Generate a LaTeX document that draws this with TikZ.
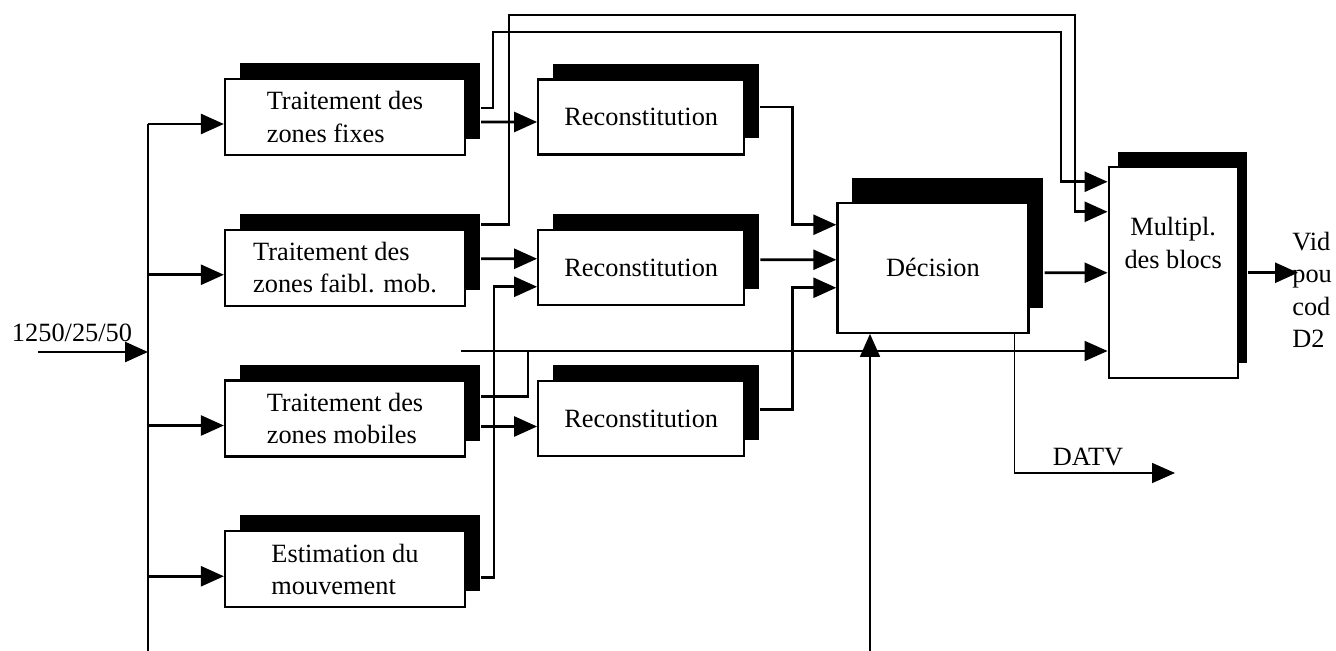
\documentclass[tikz,border=0pt]{standalone}
\usepackage{fontspec}
\setmainfont{Liberation Serif}
\usetikzlibrary{arrows.meta,positioning,shadows}

\begin{document}
\begin{tikzpicture}[x=0.02cm, y=-0.02cm, node distance=1.45cm, font=\fontsize{15}{18.5}\selectfont]
    % Styles
    \tikzstyle{ombre}=[shadow xshift=0.3cm, shadow yshift=0.32cm, fill=black, opacity=1]
    \tikzstyle{cadre}=[rectangle, draw=black, fill=white, line width=1.3pt]
    \tikzstyle{bloc}=[cadre, drop shadow={ombre}]
    \tikzstyle{traitement}=[bloc, minimum width=4.8cm, minimum height=1.52cm, align=left]
    \tikzstyle{recon}=[bloc, minimum width=4.12cm, minimum height=1.5cm]
    \tikzstyle{trait}=[line width=1.5pt]
    \tikzstyle{fin}=[line width=1pt]
    \tikzstyle{fleche}=[-{Triangle[length=0.46cm, width=0.4cm]}]

    \useasboundingbox (0,0) rectangle (1336,651);

    % Blocs de traitement
    \node (fixes) [traitement] at (345,117) {Traitement des\\zones fixes};
    \node (faible) [traitement, below=of fixes] {Traitement des\\zones faibl. mob.};
    \node (mobile) [traitement, below=of faible] {Traitement des\\zones mobiles};
    \node (estim) [traitement, below=of mobile] {Estimation du\\mouvement};

    % Reconstitution
    \node (rec1) [recon, right=1.42cm of fixes] {Reconstitution};
    \node (rec2) [recon, right=1.42cm of faible] {Reconstitution};
    \node (rec3) [recon, right=1.42cm of mobile] {Reconstitution};

    % Decision et multiplexage
    \node (dec) [cadre, drop shadow={ombre, shadow yshift=0.5cm}, minimum width=3.82cm, minimum height=2.6cm, right=1.82cm of rec2] {Décision};
    \node (mux) [cadre, drop shadow={ombre, shadow xshift=0.18cm, shadow yshift=0.3cm}, minimum width=2.58cm, minimum height=4.22cm, right=1.56cm of dec, yshift=-0.1cm] {};
    \node (muxtexte) [align=center, below=0.9cm of mux.north] {Multipl.\\des blocs};

    % Textes
    \node (debit) at (72,333) {1250/25/50};
    \node (datvtexte) at (1088,457) {DATV};
    \node (video) [anchor=west, align=left, inner xsep=0pt] at (1292,290) {Vid\\pou\\cod\\D2};

    % Points
    \coordinate (entree) at (38,352);
    \coordinate (bus) at (148,352);
    \coordinate (busbas) at (148,651);
    \coordinate (cA) at (1061,32);
    \coordinate (cB) at (1075,15);
    \coordinate (amorce) at (461,351);
    \coordinate (basdec) at (870,651);
    \coordinate (datv) at (1175,473);
    \coordinate (sortie) at (1298,273);

    % Entree
    \draw [trait, fleche] (entree) -- (bus);
    \foreach \n in {fixes,faible,mobile,estim}{
        \coordinate (e-\n) at ([yshift=-0.14cm]\n.west);
        \draw [trait, fleche] (bus |- e-\n) -- (e-\n);
    }
    \draw [trait] (bus |- e-fixes) -- (busbas);

    % Vers la reconstitution
    \draw [trait, fleche] ([shift={(15,5)}]fixes.east) -- ([yshift=-0.1cm]rec1.west);
    \draw [trait, fleche] ([shift={(15,-9)}]faible.east) -- ([yshift=0.18cm]rec2.west);
    \draw [trait, fleche] ([shift={(15,8)}]mobile.east) -- ([yshift=-0.16cm]rec3.west);
    \draw [trait, fleche] ([shift={(15,8)}]estim.east) -- ++(13,0) |- ([yshift=-0.38cm]rec2.west);

    % Vers le multiplexeur
    \draw [trait, fleche] ([shift={(15,-9)}]fixes.east) -- ++(12,0) |- (cA) |- ([yshift=1.82cm]mux.west);
    \draw [trait, fleche] ([shift={(15,-43)}]faible.east) -- ++(28,0) |- (cB) |- ([yshift=1.22cm]mux.west);
    \draw [trait] ([shift={(15,-22)}]mobile.east) -- ++(47,0) -- ++(0,-46);
    \draw [fin, fleche] (amorce) -- (amorce -| mux.west);

    % Vers la decision
    \draw [trait, fleche] ([shift={(15,-10)}]rec1.east) -- ++(32,0) |- ([yshift=0.86cm]dec.west);
    \draw [trait, fleche] ([shift={(15,-8)}]rec2.east) -- ([yshift=0.16cm]dec.west);
    \draw [trait, fleche] ([shift={(15,-9)}]rec3.east) -- ++(32,0) |- ([yshift=-0.4cm]dec.west);
    \draw [fin, fleche] (basdec) -- (basdec |- dec.south);

    % Sorties
    \draw [trait, fleche] ([shift={(15,5)}]dec.east) -- (mux.west);
    \draw [fin, fleche] ([xshift=1.63cm]dec.south) |- (datv);
    \draw [trait, fleche] ([xshift=0.18cm]mux.east) -- (sortie |- mux.east);

\end{tikzpicture}
\end{document}
